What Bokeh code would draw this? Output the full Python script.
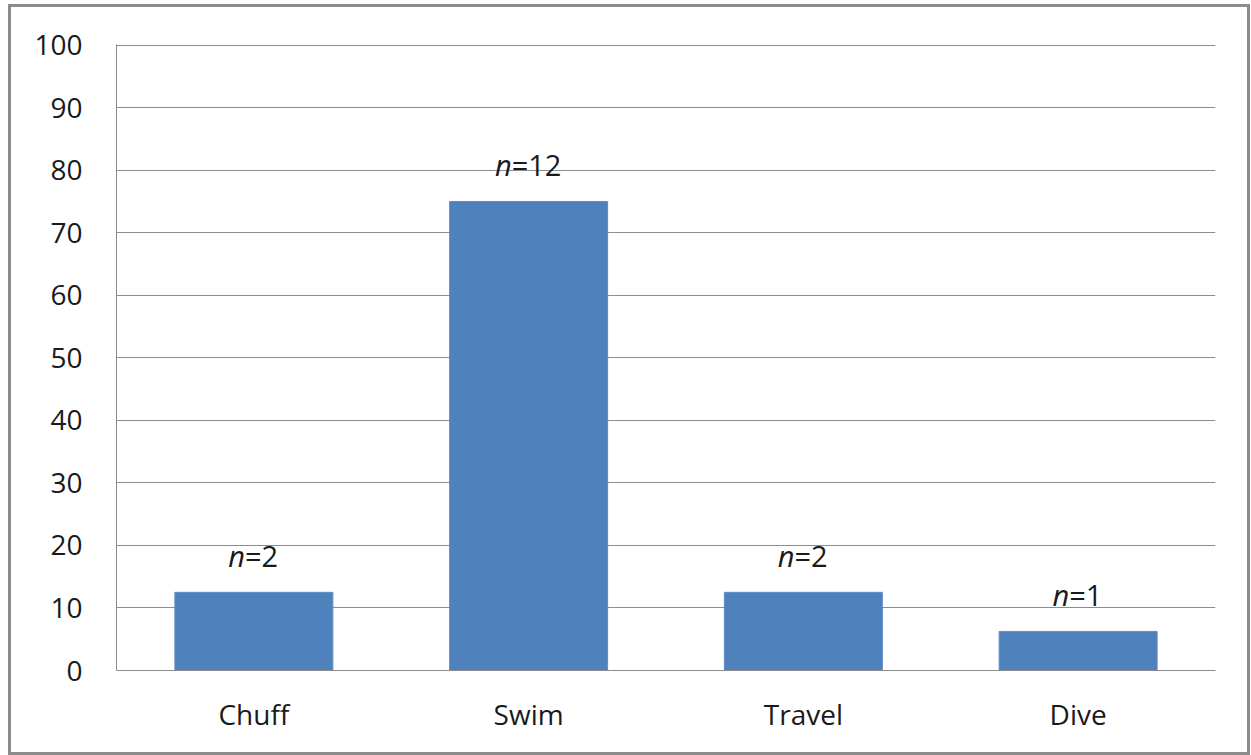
from bokeh.plotting import figure
from bokeh.models import FactorRange, Range1d, SingleIntervalTicker, ColumnDataSource
from bokeh.core.properties import value
from bokeh.embed import file_html
from bokeh.resources import INLINE

categories = ["Chuff", "Swim", "Travel", "Dive"]
percent = [12.5, 75.0, 12.5, 6.25]
counts = [2, 12, 2, 1]

FONT = "Open Sans"
GRAY = "#8c8c8c"

rest = ["=" + str(c) for c in counts]
# split point between italic "n" and "=k", so the whole label is centred
split = [(14 - 16 * len(r)) / 2 for r in rest]

src = ColumnDataSource(dict(cat=categories, val=percent, n=["n"] * len(categories),
                            rest=rest, split=split))

p = figure(x_range=FactorRange(*categories, range_padding=0),
           y_range=Range1d(0, 100.1),
           width=1242, height=751, output_backend="svg", toolbar_location=None,
           min_border_left=105, min_border_right=38, min_border_top=37, min_border_bottom=88)
p.styles = {"border": "3px solid " + GRAY, "box-sizing": "border-box",
            "margin-left": "8px", "margin-top": "4px"}
p.outline_line_color = None
p.background_fill_color = "white"
p.border_fill_color = "white"

p.vbar(x="cat", top="val", width=0.575, source=src,
       fill_color="#4f81bd", line_color="#5d8cc6", line_width=1)

p.text(x="cat", y="val", text="n", source=src, x_offset="split", y_offset=-37,
       text_align="right", text_baseline="alphabetic", text_font=value(FONT),
       text_font_style="italic", text_font_size="29px", text_color="#1a1a1a")
p.text(x="cat", y="val", text="rest", source=src, x_offset="split", y_offset=-37,
       text_align="left", text_baseline="alphabetic", text_font=value(FONT),
       text_font_size="29px", text_color="#1a1a1a")

p.yaxis.ticker = SingleIntervalTicker(interval=10)
for ax in (p.xaxis[0], p.yaxis[0]):
    ax.axis_line_color = GRAY
    ax.axis_line_width = 1
    ax.major_tick_line_color = None
    ax.minor_tick_line_color = None
    ax.major_tick_out = 0
    ax.major_tick_in = 0
    ax.major_label_text_font = FONT
    ax.major_label_text_font_size = "28px"
    ax.major_label_text_color = "#1a1a1a"
p.yaxis.major_label_standoff = 30
p.xaxis.major_label_standoff = 24

p.xgrid.grid_line_color = None
p.ygrid.grid_line_color = GRAY
p.ygrid.grid_line_width = 1

open("out.html", "w").write(file_html(p, INLINE))
